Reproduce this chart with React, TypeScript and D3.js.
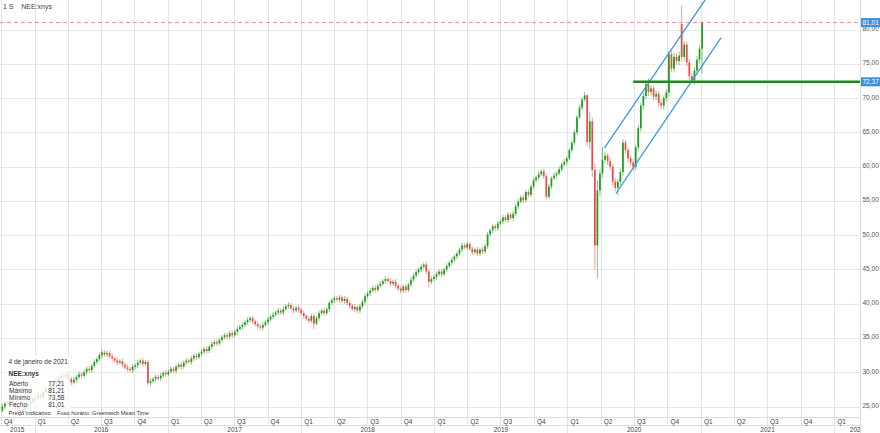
import React from "react";
import * as d3 from "d3";

// Weekly candles for NEE:xnys, first week starting 2015-10-05
const firstWeek = new Date(2015, 9, 5);

const opens = [
24.4,25.0,25.4,25.7,25.9,25.5,25.0,24.5,24.3,24.6,25.0,25.3,25.7,
26.1,26.3,26.7,26.4,27.1,27.6,27.4,28.0,28.4,28.8,29.2,29.5,29.3,
29.7,29.0,28.5,28.9,29.3,29.7,29.5,30.0,30.5,30.3,30.9,31.5,31.9,
32.5,32.9,32.6,32.8,32.3,32.0,31.7,31.4,31.6,31.1,30.7,30.5,30.3,
30.8,31.0,31.4,31.7,31.2,31.5,28.4,28.7,29.0,29.3,29.1,29.5,29.9,
29.7,30.1,30.5,30.2,30.8,31.1,30.8,31.4,31.7,31.5,32.0,32.4,32.2,
32.7,33.0,33.4,33.1,33.7,34.1,34.4,34.2,34.7,35.1,35.4,35.2,35.7,
35.4,35.9,36.3,36.6,36.9,37.3,37.6,37.9,37.4,37.0,36.7,36.5,36.9,
37.3,37.7,38.1,38.4,38.7,39.0,38.7,39.2,39.6,39.8,39.3,39.0,39.4,
39.1,38.6,38.2,37.8,37.5,38.2,37.1,37.9,38.6,39.0,38.6,39.2,40.1,
40.5,40.8,40.6,40.9,40.4,40.7,40.1,39.7,39.2,39.5,39.0,39.6,40.3,
41.1,41.5,41.9,42.3,42.0,42.6,42.9,43.3,43.6,43.3,42.9,43.2,42.6,
42.2,41.9,42.5,42.0,42.8,43.5,44.1,44.6,45.0,45.4,45.7,44.7,43.2,
43.6,43.9,44.3,44.7,44.3,45.0,45.5,46.0,46.4,46.9,47.3,47.9,48.5,
48.2,48.7,48.0,47.5,47.9,47.3,47.9,47.6,48.4,50.1,50.7,51.3,51.0,
51.7,52.0,52.6,52.2,53.0,52.5,53.1,54.2,54.9,55.5,55.1,56.3,55.9,
57.1,58.0,58.4,58.9,59.3,58.6,55.6,57.1,58.3,58.7,59.0,59.6,60.3,
60.7,61.2,62.4,63.5,65.0,67.2,68.6,69.8,70.4,63.6,66.6,59.5,48.5,
56.5,59.0,61.0,61.6,60.8,60.0,57.8,56.9,57.8,59.2,63.5,62.4,61.2,
60.6,60.0,62.8,65.6,68.9,70.3,72.0,70.9,71.4,70.2,70.6,69.3,68.9,
70.0,70.8,76.4,74.3,76.0,75.4,80.8,76.0,77.8,75.2,73.2,72.6,74.0,75.6,
77.21
];

const highs = [
25.4,25.7,26.1,26.2,26.3,25.8,25.4,24.8,25.0,25.3,25.7,26.0,26.5,
26.6,27.1,27.0,27.5,27.9,28.0,28.3,28.8,29.1,29.6,29.8,29.9,30.0,
30.1,29.3,29.3,29.6,30.1,30.0,30.4,30.8,30.9,31.2,31.9,32.2,32.9,
33.3,33.2,33.2,33.1,32.7,32.3,32.1,31.9,32.0,31.4,31.1,30.8,31.2,
31.3,31.8,32.0,32.1,31.8,31.8,29.1,29.3,29.7,29.6,29.9,30.2,30.3,
30.4,30.9,30.8,31.2,31.4,31.5,31.7,32.1,32.0,32.4,32.7,32.8,33.0,
33.4,33.7,33.8,34.0,34.5,34.7,34.8,35.0,35.5,35.7,35.8,36.0,36.1,
36.2,36.7,36.9,37.3,37.6,38.0,38.2,38.3,37.7,37.4,37.0,37.3,37.6,
38.1,38.4,38.8,39.0,39.4,39.3,39.6,39.9,40.2,40.1,39.7,39.7,39.8,
39.4,39.0,38.5,38.2,38.5,38.6,38.2,39.0,39.3,39.4,39.5,40.5,40.8,
41.2,41.1,41.3,41.2,41.1,41.0,40.5,40.0,39.9,39.8,40.0,40.6,41.5,
41.8,42.3,42.6,42.7,42.9,43.3,43.6,44.0,43.9,43.7,43.5,43.6,42.9,
42.6,42.8,42.9,43.1,43.9,44.4,45.0,45.3,45.8,46.0,46.1,45.0,44.0,
44.2,44.7,45.0,45.1,45.3,45.9,46.3,46.8,47.2,47.7,48.2,48.9,48.8,
49.1,49.0,48.4,48.2,48.3,48.2,48.3,48.7,50.5,51.0,51.7,51.6,52.1,
52.3,53.0,52.9,53.4,53.3,53.5,54.5,55.3,55.8,55.9,56.6,56.7,57.4,
58.4,58.7,59.3,59.6,59.7,58.9,57.5,58.6,59.1,59.3,60.0,60.6,61.1,
61.5,62.8,63.8,65.4,67.5,69.0,70.1,70.9,70.6,68.0,67.2,60.5,58.0,
59.6,62.8,62.1,62.0,61.3,60.4,58.3,58.2,59.7,64.0,63.9,62.9,61.6,
61.1,63.2,66.1,69.3,70.8,72.4,72.9,71.9,71.8,71.1,71.0,69.8,70.4,
71.3,76.9,76.9,76.6,76.5,76.8,83.5,78.3,78.2,75.7,73.6,74.5,76.1,77.7,
81.21
];

const lows = [
24.1,24.6,25.1,25.3,25.2,24.6,24.2,23.9,24.0,24.2,24.7,24.9,25.4,
25.7,26.0,26.0,26.1,26.7,27.1,27.0,27.7,28.0,28.5,28.8,29.0,28.9,
28.7,28.1,28.2,28.5,29.0,29.1,29.2,29.6,30.0,29.9,30.6,31.1,31.6,
32.1,32.3,32.2,32.0,31.6,31.4,31.0,31.1,30.7,30.4,30.1,30.0,29.9,
30.5,30.6,31.1,30.8,30.9,28.1,28.0,28.4,28.6,28.8,28.7,29.2,29.3,
29.4,29.7,29.9,29.8,30.5,30.4,30.5,31.0,31.2,31.1,31.7,31.8,31.9,
32.3,32.7,32.7,32.8,33.3,33.8,33.8,33.9,34.3,34.8,34.8,34.9,35.0,
35.1,35.5,36.0,36.2,36.6,36.9,37.3,37.0,36.7,36.3,36.2,36.1,36.6,
36.9,37.4,37.7,38.1,38.3,38.4,38.3,38.9,39.2,39.0,38.6,38.7,38.7,
38.3,37.8,37.5,37.1,37.2,36.3,36.8,37.5,38.3,38.2,38.3,38.8,39.8,
40.1,40.3,40.2,40.1,40.0,39.8,39.3,38.9,38.8,38.7,38.6,39.3,39.9,
40.8,41.1,41.6,41.6,41.7,42.2,42.6,42.9,43.0,42.5,42.6,42.2,41.9,
41.5,41.6,41.6,41.7,42.4,43.2,43.7,44.3,44.6,45.1,44.3,42.3,42.8,
43.3,43.5,44.0,43.9,44.0,44.6,45.2,45.6,46.1,46.5,47.0,47.5,47.9,
47.8,47.7,47.1,47.2,46.9,47.0,47.2,47.3,48.0,49.8,50.3,50.7,50.6,
51.4,51.6,51.9,51.8,52.2,52.1,52.8,53.8,54.6,54.7,54.8,55.5,55.6,
56.7,57.7,58.0,58.6,58.2,55.2,55.3,56.7,58.0,58.3,58.7,59.2,60.0,
60.3,60.9,62.0,63.2,64.6,66.9,68.2,69.5,63.0,62.5,58.5,45.0,43.7,
55.7,58.4,60.5,60.2,59.5,57.2,56.4,55.8,57.3,58.6,61.9,60.6,60.1,
59.4,59.5,62.2,65.1,68.3,69.8,70.3,70.4,69.6,69.7,68.7,68.4,68.3,
69.5,70.2,73.8,73.7,74.9,74.8,75.3,75.4,74.7,72.6,72.1,72.0,73.5,75.0,
73.58
];

const closes = [
25.0,25.4,25.7,25.9,25.5,25.0,24.5,24.3,24.6,25.0,25.3,25.7,26.1,
26.3,26.7,26.4,27.1,27.6,27.4,28.0,28.4,28.8,29.2,29.5,29.3,29.7,
29.0,28.5,28.9,29.3,29.7,29.5,30.0,30.5,30.3,30.9,31.5,31.9,32.5,
32.9,32.6,32.8,32.3,32.0,31.7,31.4,31.6,31.1,30.7,30.5,30.3,30.8,
31.0,31.4,31.7,31.2,31.5,28.4,28.7,29.0,29.3,29.1,29.5,29.9,29.7,
30.1,30.5,30.2,30.8,31.1,30.8,31.4,31.7,31.5,32.0,32.4,32.2,32.7,
33.0,33.4,33.1,33.7,34.1,34.4,34.2,34.7,35.1,35.4,35.2,35.7,35.4,
35.9,36.3,36.6,36.9,37.3,37.6,37.9,37.4,37.0,36.7,36.5,36.9,37.3,
37.7,38.1,38.4,38.7,39.0,38.7,39.2,39.6,39.8,39.3,39.0,39.4,39.1,
38.6,38.2,37.8,37.5,38.2,37.1,37.9,38.6,39.0,38.6,39.2,40.1,40.5,
40.8,40.6,40.9,40.4,40.7,40.1,39.7,39.2,39.5,39.0,39.6,40.3,41.1,
41.5,41.9,42.3,42.0,42.6,42.9,43.3,43.6,43.3,42.9,43.2,42.6,42.2,
41.9,42.5,42.0,42.8,43.5,44.1,44.6,45.0,45.4,45.7,44.7,43.2,43.6,
43.9,44.3,44.7,44.3,45.0,45.5,46.0,46.4,46.9,47.3,47.9,48.5,48.2,
48.7,48.0,47.5,47.9,47.3,47.9,47.6,48.4,50.1,50.7,51.3,51.0,51.7,
52.0,52.6,52.2,53.0,52.5,53.1,54.2,54.9,55.5,55.1,56.3,55.9,57.1,
58.0,58.4,58.9,59.3,58.6,55.6,57.1,58.3,58.7,59.0,59.6,60.3,60.7,
61.2,62.4,63.5,65.0,67.2,68.6,69.8,70.4,63.6,66.6,59.5,48.5,56.5,
59.0,61.0,61.6,60.8,60.0,57.8,56.9,57.8,59.2,63.5,62.4,61.2,60.6,
60.0,62.8,65.6,68.9,70.3,72.0,70.9,71.4,70.2,70.6,69.3,68.9,70.0,
70.8,76.4,74.3,76.0,75.4,76.2,76.0,77.8,75.2,73.2,72.6,74.0,75.6,77.2,
81.01
];

const priceTicks = [25, 30, 35, 40, 45, 50, 55, 60, 65, 70, 75, 80];
const quarterNames = ["Q1", "Q2", "Q3", "Q4"];

// Annotations (trend channel + support level)
const upperChannel = [{ date: new Date(2020, 3, 11), price: 62.7 }, { date: new Date(2021, 0, 12), price: 84.3 }];
const lowerChannel = [{ date: new Date(2020, 4, 13), price: 56.1 }, { date: new Date(2021, 1, 25), price: 78.8 }];
const supportLevel = { from: new Date(2020, 5, 29), price: 72.37, label: "72,37" };
const lastPrice = { price: 81.01, label: "81,01" };

const legendTitle = "4 de janeiro de 2021";
const legendSymbol = "NEE:xnys";
const legendRows = [
  ["Aberto", "77,21"],
  ["Máximo", "81,21"],
  ["Mínimo", "73,58"],
  ["Fecho", "81,01"],
];
const footerLeft = "Preço indicativo";
const footerRight = "Fuso horário: Greenwich Mean Time";
const headerText = "1 S    NEE:xnys";

const W = 880, H = 433;
const plotRight = 860, plotBottom = 417.5, qRowBottom = 425.5;
const FONT = "'Liberation Sans', Arial, sans-serif";
const UP = "#1c9e1c", DOWN = "#f04848";

export default function App() {
  const x = d3.scaleTime().domain([new Date(2016, 0, 1), new Date(2021, 0, 1)]).range([34.5, 701]);
  const y = d3.scaleLinear().domain([25, 80]).range([406.5, 29.5]);
  const fmt = (v: number) => d3.format(".2f")(v).replace(".", ",");

  const candles = closes.map((c, i) => ({
    date: d3.timeDay.offset(firstWeek, i * 7),
    o: opens[i], h: highs[i], l: lows[i], c,
  }));

  const quarters = d3.timeMonth.every(3)!.range(new Date(2015, 9, 1), new Date(2022, 6, 1));
  const years = d3.timeYear.range(new Date(2015, 0, 1), new Date(2023, 0, 1));
  const line = d3.line<{ date: Date; price: number }>().x(d => x(d.date)).y(d => y(d.price));

  const bw = 1.7;
  return (
    <svg width={W} height={H} style={{ position: "absolute", left: 0, top: 0, background: "#fff" }} fontFamily={FONT}>
      <defs>
        <clipPath id="plot"><rect x={0} y={0} width={plotRight} height={plotBottom} /></clipPath>
        <clipPath id="axisx"><rect x={0} y={plotBottom} width={plotRight} height={H - plotBottom} /></clipPath>
      </defs>
      <rect width={W} height={H} fill="#fff" />
      {priceTicks.map(t => (
        <line key={"h" + t} x1={0} x2={plotRight} y1={Math.round(y(t)) + 0.5} y2={Math.round(y(t)) + 0.5} stroke="#e8e8e8" />
      ))}
      {quarters.map(q => {
        const xv = Math.round(x(q)) + 0.5;
        if (xv < 0 || xv > plotRight) return null;
        const isYear = q.getMonth() === 0;
        return <line key={"v" + q.getTime()} x1={xv} x2={xv} y1={0} y2={isYear ? H : qRowBottom} stroke="#e4e4e4" />;
      })}
      <line x1={0} x2={plotRight} y1={plotBottom} y2={plotBottom} stroke="#dcdcdc" />
      <line x1={0} x2={plotRight} y1={qRowBottom} y2={qRowBottom} stroke="#dcdcdc" />
      <g clipPath="url(#axisx)" fontSize={6.5} fill="#444">
        {quarters.map(q => (
          <text key={"q" + q.getTime()} x={x(q) + 3} y={423.6}>{quarterNames[Math.floor(q.getMonth() / 3)]}</text>
        ))}
        {years.map(yr => {
          const a = Math.max(0, x(yr));
          const b = Math.min(W, x(d3.timeYear.offset(yr, 1)));
          if (b <= a) return null;
          return <text key={"y" + yr.getFullYear()} x={(a + b) / 2} y={431.6} textAnchor="middle">{yr.getFullYear()}</text>;
        })}
      </g>
      <line x1={plotRight + 0.5} x2={plotRight + 0.5} y1={0} y2={H} stroke="#dcdcdc" />
      <g fontSize={6.5} fill="#555">
        {priceTicks.map(t => (
          <text key={"l" + t} x={862.5} y={y(t) + 1.5}>{fmt(t)}</text>
        ))}
      </g>
      <g clipPath="url(#plot)">
        {candles.map((d, i) => {
          const col = d.c >= d.o ? UP : DOWN;
          const cx = x(d.date);
          const top = y(Math.max(d.o, d.c));
          const bot = y(Math.min(d.o, d.c));
          return (
            <g key={i}>
              <line x1={cx} x2={cx} y1={y(d.h)} y2={y(d.l)} stroke={col} strokeOpacity={0.55} strokeWidth={1} />
              <rect x={cx - bw / 2} y={top} width={bw} height={Math.max(1, bot - top)} fill={col} />
            </g>
          );
        })}
        <line x1={0} x2={plotRight} y1={y(lastPrice.price)} y2={y(lastPrice.price)} stroke="#f08c8c" strokeDasharray="4,3" strokeWidth={1} />
        <path d={line(upperChannel) || ""} stroke="#3f9be0" strokeWidth={1.3} fill="none" />
        <path d={line(lowerChannel) || ""} stroke="#3f9be0" strokeWidth={1.3} fill="none" />
        <line x1={x(supportLevel.from)} x2={plotRight} y1={y(supportLevel.price)} y2={y(supportLevel.price)} stroke="#1b8a1b" strokeWidth={2.5} />
      </g>
      {[lastPrice, supportLevel].map((p, i) => (
        <g key={"tag" + i}>
          <rect x={plotRight + 1} y={y(p.price) - 4.5} width={19} height={9} fill="#3d8fdb" />
          <text x={862.5} y={y(p.price) + 2.3} fontSize={6.5} fill="#fff">{p.label}</text>
        </g>
      ))}
      <text x={3} y={9} fontSize={7} fill="#444" style={{ whiteSpace: "pre" }}>{headerText}</text>
      <rect x={6} y={355} width={64} height={56} fill="#fff" fillOpacity={0.78} />
      <g fontSize={6.5} fill="#333">
        <text x={8.5} y={364}>{legendTitle}</text>
        <text x={8.5} y={375.5} fontWeight="bold">{legendSymbol}</text>
        {legendRows.map((r, i) => (
          <g key={r[0]}>
            <text x={9} y={385.5 + i * 7}>{r[0]}</text>
            <text x={64.5} y={385.5 + i * 7} textAnchor="end">{r[1]}</text>
          </g>
        ))}
        <text x={8.5} y={415.3} fontSize={6}>{footerLeft}</text>
        <text x={57} y={415.3} fontSize={5.7}>{footerRight}</text>
      </g>
    </svg>
  );
}
